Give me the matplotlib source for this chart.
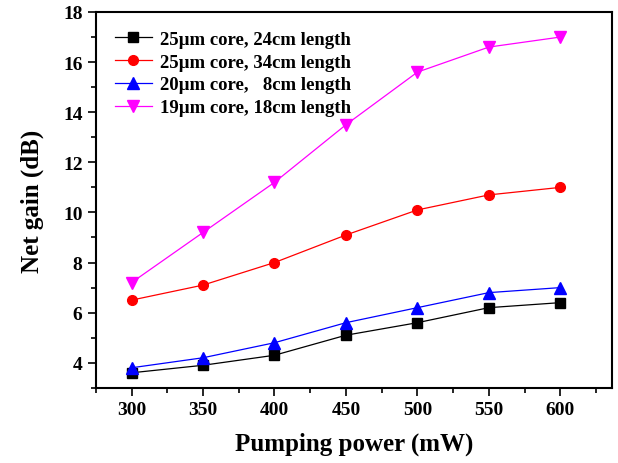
import matplotlib
matplotlib.use("Agg")
import matplotlib.pyplot as plt
from matplotlib.ticker import MultipleLocator

power = [300, 350, 400, 450, 500, 550, 600]
gain_25_24 = [3.6, 3.9, 4.3, 5.1, 5.6, 6.2, 6.4]
gain_25_34 = [6.5, 7.1, 8.0, 9.1, 10.1, 10.7, 11.0]
gain_20_8 = [3.8, 4.2, 4.8, 5.6, 6.2, 6.8, 7.0]
gain_19_18 = [7.2, 9.2, 11.2, 13.5, 15.6, 16.6, 17.0]

labels = ["25\u00b5m core, 24cm length",
          "25\u00b5m core, 34cm length",
          "20\u00b5m core,   8cm length",
          "19\u00b5m core, 18cm length"]

plt.rcParams['font.family'] = ['Liberation Serif', 'DejaVu Serif']
plt.rcParams['font.weight'] = 'bold'

fig = plt.figure(figsize=(6.18, 4.64), dpi=100)
ax = fig.add_axes([0.155, 0.162, 0.835, 0.810])

ax.plot(power, gain_25_24, color='black', lw=0.9, marker='s', ms=7, label=labels[0])
ax.plot(power, gain_25_34, color='red', lw=0.9, marker='o', ms=7, label=labels[1])
ax.plot(power, gain_20_8, color='blue', lw=0.9, marker='^', ms=8, label=labels[2])
ax.plot(power, gain_19_18, color='magenta', lw=0.9, marker='v', ms=8, label=labels[3])

ax.set_xlim(275, 636)
ax.set_ylim(3, 18)
ax.xaxis.set_major_locator(MultipleLocator(50))
ax.xaxis.set_minor_locator(MultipleLocator(25))
ax.yaxis.set_major_locator(MultipleLocator(2))
ax.yaxis.set_minor_locator(MultipleLocator(1))
ax.tick_params(which='major', direction='out', length=6, width=1.2, labelsize=14)
ax.tick_params(which='minor', direction='out', length=3.5, width=1.2)
ax.tick_params(axis='x', which='both', top=False)
ax.tick_params(axis='y', which='both', right=False)
for s in ax.spines.values():
    s.set_linewidth(1.5)

ax.set_xlabel('Pumping power (mW)', fontsize=18, fontweight='bold', labelpad=10)
ax.set_ylabel('Net gain (dB)', fontsize=18, fontweight='bold', labelpad=14)

ax.legend(loc='upper left', frameon=False, fontsize=13.5, handlelength=2.0,
          borderaxespad=0.6, labelspacing=0.3, handletextpad=0.4)

fig.savefig('out.png', dpi=100)
